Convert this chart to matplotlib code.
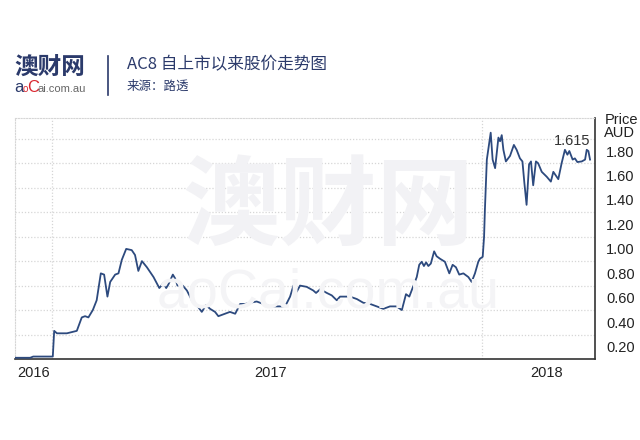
import numpy as np
import matplotlib
matplotlib.use('Agg')
import matplotlib.pyplot as plt

# AC8 share price, x in decimal years
years = [
    2016.072, 2016.127, 2016.138, 2016.209, 2016.214, 2016.224, 2016.242, 2016.260, 2016.296,
    2016.314, 2016.326, 2016.338, 2016.354, 2016.368, 2016.383, 2016.395, 2016.407, 2016.417,
    2016.435, 2016.447, 2016.459, 2016.475, 2016.495, 2016.507, 2016.519, 2016.532, 2016.550,
    2016.574, 2016.595, 2016.610, 2016.620, 2016.628, 2016.644, 2016.652, 2016.661, 2016.680,
    2016.695, 2016.713, 2016.731, 2016.749, 2016.764, 2016.779, 2016.797, 2016.809, 2016.833,
    2016.851, 2016.870, 2016.888, 2016.906, 2016.924, 2016.948, 2016.972, 2016.996, 2017.026,
    2017.051, 2017.069, 2017.081, 2017.093, 2017.105, 2017.129, 2017.153, 2017.163, 2017.178,
    2017.202, 2017.220, 2017.238, 2017.250, 2017.286, 2017.311, 2017.334, 2017.359, 2017.383,
    2017.407, 2017.431, 2017.455, 2017.474, 2017.489, 2017.501, 2017.516, 2017.528, 2017.537,
    2017.546, 2017.554, 2017.562, 2017.570, 2017.579, 2017.591, 2017.600, 2017.612, 2017.630,
    2017.646, 2017.658, 2017.670, 2017.682, 2017.697, 2017.715, 2017.727, 2017.739, 2017.751,
    2017.757, 2017.767, 2017.772, 2017.775, 2017.782, 2017.796, 2017.803, 2017.812, 2017.824,
    2017.830, 2017.836, 2017.842, 2017.851, 2017.866, 2017.880, 2017.890, 2017.902, 2017.911,
    2017.918, 2017.926, 2017.935, 2017.942, 2017.950, 2017.960, 2017.968, 2017.981, 2017.999,
    2018.014, 2018.023, 2018.029, 2018.041, 2018.053, 2018.065, 2018.074, 2018.081, 2018.093,
    2018.101, 2018.110, 2018.126, 2018.138, 2018.144, 2018.150, 2018.156,
]
price = [
    0.11, 0.11, 0.12, 0.12, 0.33, 0.31, 0.31, 0.31, 0.33,
    0.44, 0.45, 0.44, 0.50, 0.58, 0.80, 0.79, 0.61, 0.73,
    0.79, 0.80, 0.91, 1.00, 0.99, 0.95, 0.82, 0.90, 0.85,
    0.77, 0.68, 0.72, 0.68, 0.71, 0.79, 0.76, 0.70, 0.70,
    0.66, 0.58, 0.54, 0.485, 0.54, 0.51, 0.485, 0.45, 0.47,
    0.485, 0.47, 0.55, 0.55, 0.56, 0.57, 0.55, 0.53, 0.53,
    0.53, 0.61, 0.70, 0.65, 0.70, 0.69, 0.66, 0.64, 0.67,
    0.64, 0.62, 0.58, 0.61, 0.61, 0.59, 0.56, 0.55, 0.53,
    0.51, 0.53, 0.53, 0.50, 0.63, 0.61, 0.70, 0.77, 0.87,
    0.895, 0.86, 0.89, 0.86, 0.88, 0.98, 0.94, 0.92, 0.895,
    0.80, 0.87, 0.85, 0.79, 0.80, 0.77, 0.73, 0.80, 0.895,
    0.92, 0.935, 1.10, 1.32, 1.73, 1.95, 1.73, 1.66, 1.91,
    1.88, 1.93, 1.81, 1.715, 1.76, 1.85, 1.81, 1.74, 1.715,
    1.54, 1.36, 1.69, 1.715, 1.52, 1.715, 1.70, 1.63, 1.59,
    1.55, 1.63, 1.61, 1.57, 1.70, 1.81, 1.77, 1.80, 1.73,
    1.74, 1.71, 1.715, 1.73, 1.81, 1.80, 1.73,
]
last_price_label = '1.615'

y_ticks = [0.20, 0.40, 0.60, 0.80, 1.00, 1.20, 1.40, 1.60, 1.80]
y_grid = [0.3, 0.5, 0.7, 0.9, 1.1, 1.3, 1.5, 1.7, 1.9]
x_ticks = [2016.138, 2017.0, 2018.0]
x_labels = ['2016', '2017', '2018']
x_grid = [2016.207, 2017.764]

title = 'AC8 自上市以来股价走势图'
source = '来源：路透'

navy = '#2b3a6b'
line_color = '#2d4a7e'
cjk = ['Noto Sans CJK SC', 'DejaVu Sans']
num_font = ['Liberation Sans Narrow', 'Liberation Sans', 'DejaVu Sans']

plt.rcParams['font.family'] = cjk

fig = plt.figure(figsize=(6.4, 4.4), dpi=100)
ax = fig.add_axes([15 / 640, 1 - 359 / 440, 580 / 640, (359 - 118) / 440])

# watermark
fig.text(328 / 640, 1 - 208 / 440, '澳财网', fontsize=70, fontweight='bold',
         color='#f2f2f5', ha='center', va='center', zorder=0, family=cjk)
fig.text(328 / 640, 1 - 293 / 440, 'aoCai.com.au', fontsize=40,
         color='#f4f4f6', ha='center', va='center', zorder=0, family=num_font)

ax.set_facecolor('none')
ax.plot(years, price, color=line_color, linewidth=1.3, zorder=3)

ax.set_xlim(2016.072, 2018.174)
ax.set_ylim(0.1, 2.07)

for g in y_grid:
    ax.axhline(g, color='#d6d6d6', linestyle=(0, (1, 1.5)), linewidth=0.9, zorder=1)
for g in x_grid:
    ax.axvline(g, color='#d6d6d6', linestyle=(0, (1, 1.5)), linewidth=0.9, zorder=1)

ax.spines['top'].set_color('#d6d6d6')
ax.spines['top'].set_linestyle((0, (1, 1.5)))
ax.spines['left'].set_color('#d6d6d6')
ax.spines['left'].set_linestyle((0, (1, 1.5)))
ax.spines['right'].set_color('#333333')
ax.spines['right'].set_linewidth(1.2)
ax.spines['bottom'].set_color('#333333')
ax.spines['bottom'].set_linewidth(1.2)

ax.yaxis.tick_right()
ax.set_yticks(y_ticks)
ax.set_yticklabels([f'{v:.2f}' for v in y_ticks], family=num_font, fontsize=10.5, color='#222222')
ax.tick_params(axis='y', length=0, pad=8)
ax.set_xticks(x_ticks)
ax.set_xticklabels(x_labels, family=num_font, fontsize=10.5, color='#222222')
ax.tick_params(axis='x', length=0, pad=5)

ax.text(1.016, 1.02, 'Price\nAUD', transform=ax.transAxes, ha='left', va='top',
        fontsize=10.5, linespacing=0.85, color='#222222', family=num_font)
ax.text(2018.156, 1.88, last_price_label, ha='right', va='center', fontsize=10.5,
        color='#333333', family=num_font)

# header
fig.text(14 / 640, 1 - 67 / 440, '澳财网', fontsize=17, fontweight='bold', color=navy,
         ha='left', va='center', family=cjk)
fig.text(14 / 640, 1 - 92 / 440, 'a', fontsize=12, color=navy, ha='left', va='baseline', family=num_font)
fig.text(22.5 / 640, 1 - 92 / 440, 'o', fontsize=7, color='#d9262e', ha='left', va='baseline', family=num_font)
fig.text(27.5 / 640, 1 - 92 / 440, 'C', fontsize=12, color='#d9262e', ha='left', va='baseline', family=num_font)
fig.text(38 / 640, 1 - 92 / 440, 'ai.com.au', fontsize=8, color='#666666', ha='left', va='baseline',
         family=num_font)
fig.add_artist(plt.Line2D([108 / 640, 108 / 640], [1 - 56 / 440, 1 - 95 / 440], color=navy, linewidth=1.2))
fig.text(127 / 640, 1 - 65 / 440, title, fontsize=12, color=navy, ha='left', va='center', family=cjk)
fig.text(127 / 640, 1 - 86 / 440, source, fontsize=9, color=navy, ha='left', va='center', family=cjk)

fig.savefig('out.png', dpi=100, facecolor='white')
